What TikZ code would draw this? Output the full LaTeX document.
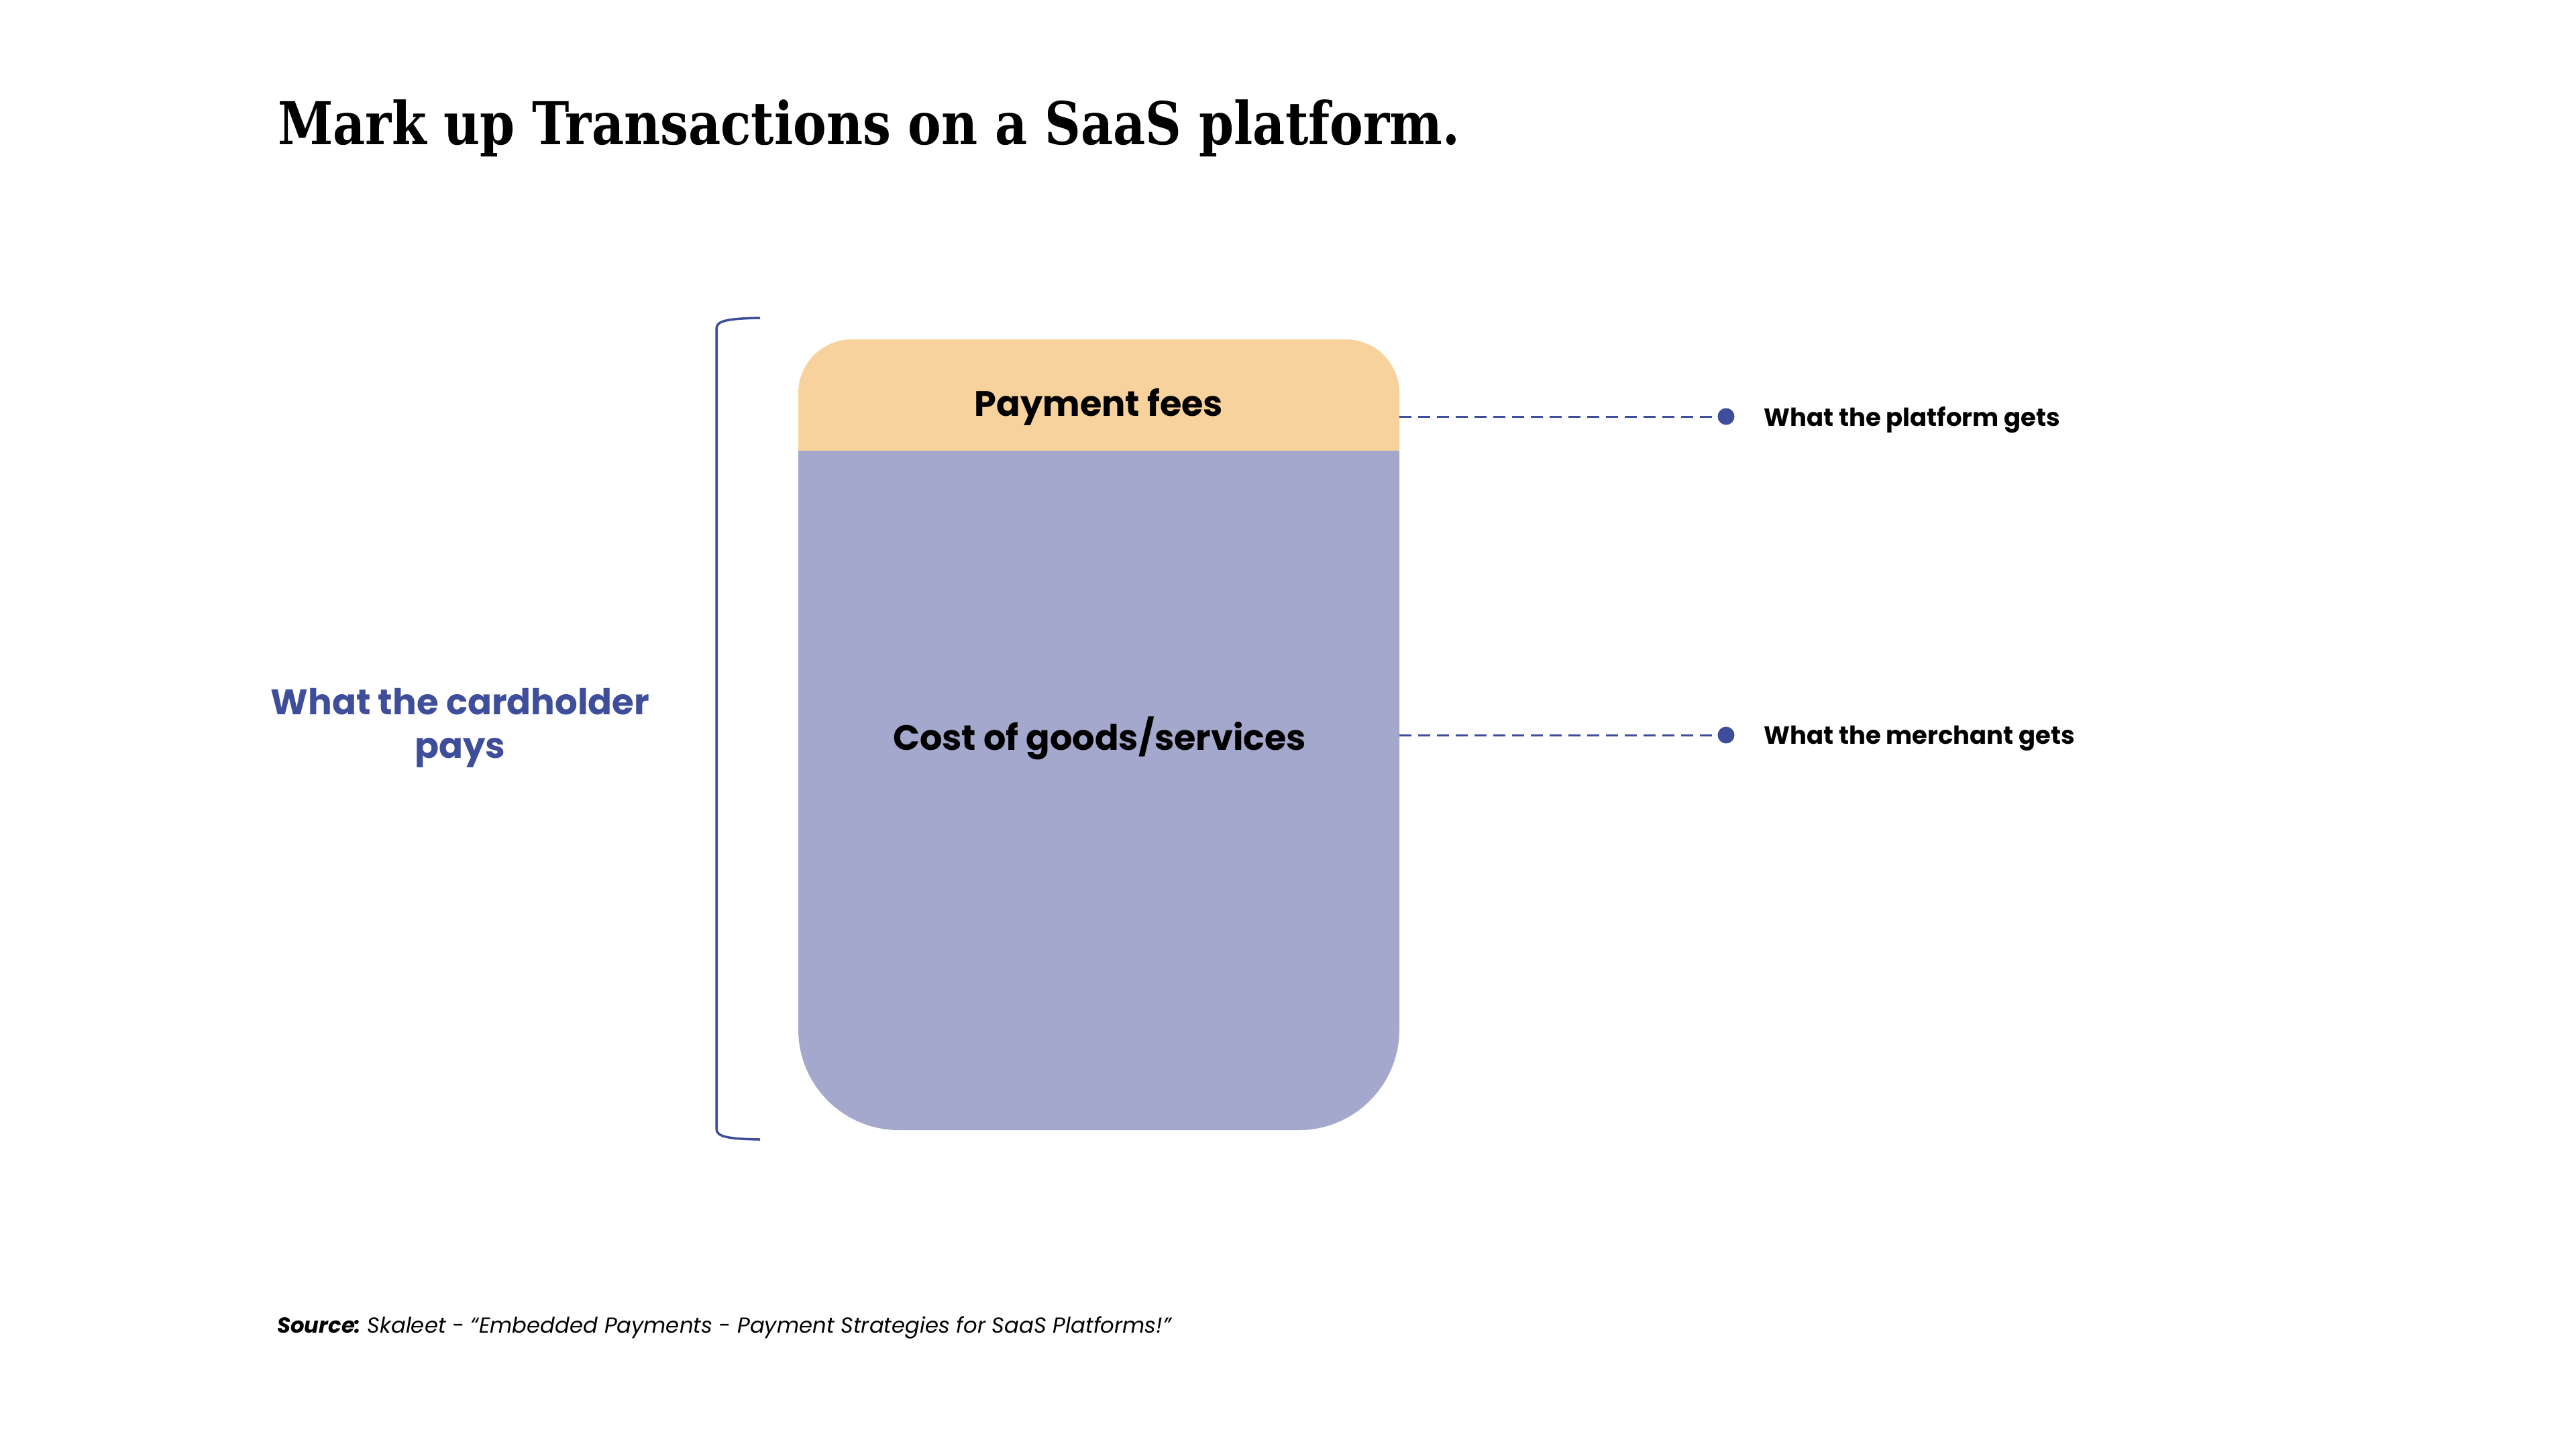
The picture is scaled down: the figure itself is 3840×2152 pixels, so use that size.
\documentclass[tikz,border=0pt]{standalone}
\usepackage{fontspec}
\setmainfont{Poppins}
\newfontfamily\titlefont{DejaVu Serif Condensed}
\definecolor{feeorange}{HTML}{F7D29D}
\definecolor{goodsblue}{HTML}{A3A8CC}
\definecolor{inkblue}{HTML}{3F4E9A}
\tikzset{
  boxlabel/.style={inner sep=0pt, font=\fontsize{52.5}{60}\selectfont\bfseries, text=black},
  sidelabel/.style={inner sep=0pt, font=\fontsize{37}{44}\selectfont\bfseries, text=black},
  leader/.style={draw=inkblue, line width=3pt, dash pattern=on 18pt off 10pt},
  enddot/.style={circle, fill=inkblue, inner sep=0pt, minimum size=25pt},
  bracketline/.style={draw=inkblue, line width=3.5pt}
}
\begin{document}
\begin{tikzpicture}[x=1pt,y=-1pt]
\useasboundingbox[fill=white] (0,0) rectangle (3840,2152);
% title
\node[anchor=base west, inner sep=0pt, font=\titlefont\fontsize{88}{100}\selectfont\bfseries] (title) at (414,215) {\scalebox{0.94}[1]{Mark up Transactions on a SaaS platform.}};
% orange top part
\fill[feeorange] (1190,672) -- (1190,586) .. controls (1190,541.8) and (1225.8,506) .. (1270,506) -- (2006,506) .. controls (2050.2,506) and (2086,541.8) .. (2086,586) -- (2086,672) -- cycle;
% blue bottom part
\fill[goodsblue] (1190,672) -- (2086,672) -- (2086,1535) .. controls (2086,1617.8) and (2018.8,1685) .. (1936,1685) -- (1340,1685) .. controls (1257.2,1685) and (1190,1617.8) .. (1190,1535) -- cycle;
\node[boxlabel, anchor=base] (pf) at (1638,620) {Payment fees};
\node[boxlabel, anchor=base] (cg) at (1639,1118) {Cost of goods/services};
% leaders
\coordinate (pfr) at (2086,621);
\coordinate (cgr) at (2086,1096);
\node[enddot] (d1) at (2573,621) {};
\node[enddot] (d2) at (2573,1096) {};
\draw[leader] (pfr) -- (d1.center);
\draw[leader] (cgr) -- (d2.center);
\node[sidelabel, anchor=base west] (l1) at (2629,635) {What the platform gets};
\node[sidelabel, anchor=base west] (l2) at (2629,1109) {What the merchant gets};
% bracket
\coordinate (bt) at (1133,474);
\coordinate (bb) at (1133,1699);
\draw[bracketline] (bt) .. controls (1085,475) and (1068,478) .. (1068,490) -- (1068,1683) .. controls (1068,1695) and (1085,1698) .. (bb);
% cardholder
\node[inner sep=0pt, anchor=base, font=\fontsize{53}{60}\selectfont\bfseries, text=inkblue] (ch1) at (686,1065) {What the cardholder};
\node[inner sep=0pt, anchor=base, font=\fontsize{53}{60}\selectfont\bfseries, text=inkblue] (ch2) at (686,1130) {pays};
% source
\node[anchor=base west, inner sep=0pt, font=\fontsize{32.3}{38}\selectfont\itshape] (src) at (413,1987) {\textbf{Source:}\hspace{0.3em}Skaleet - “Embedded Payments - Payment Strategies for SaaS Platforms!”};
\end{tikzpicture}
\end{document}
